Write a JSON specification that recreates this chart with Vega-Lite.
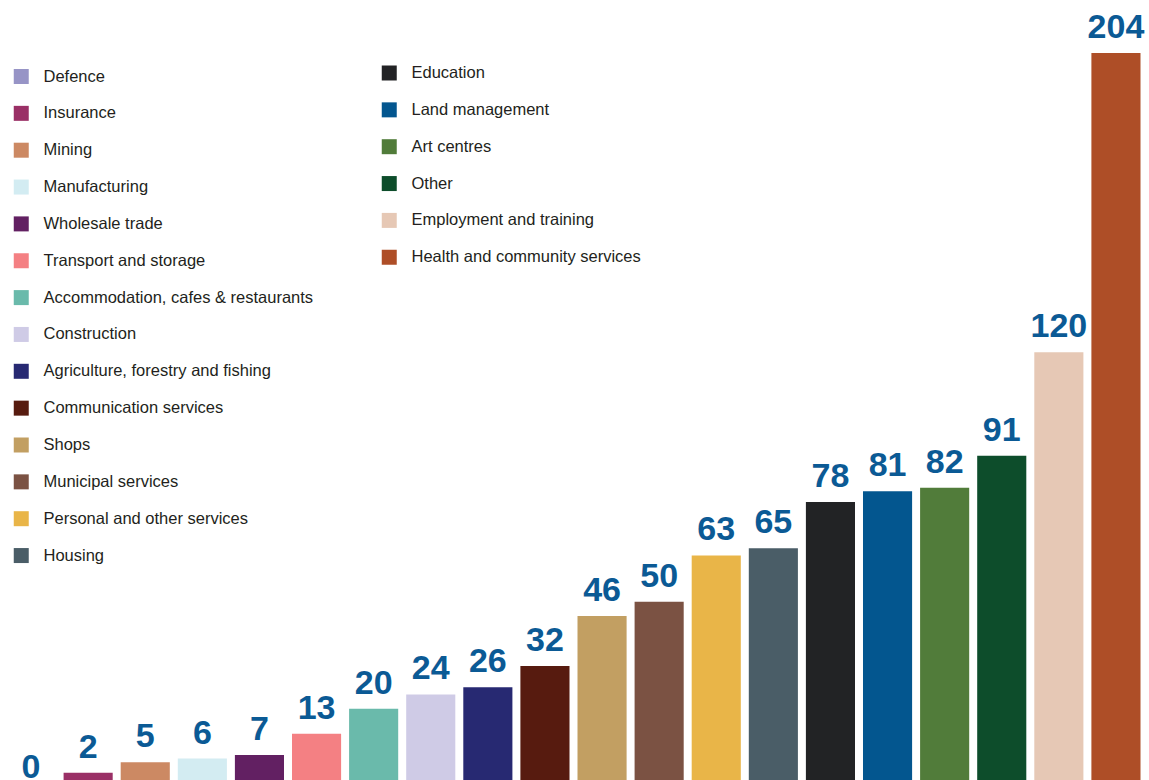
{
  "$schema": "https://vega.github.io/schema/vega-lite/v6.json",
  "width": 1142,
  "height": 727,
  "autosize": "none",
  "padding": {"left": 2.5, "top": 53, "right": 4.5, "bottom": 0},
  "background": "white",
  "config": {"view": {"stroke": null}},
  "data": {
    "values": [
      {"category": "Defence", "value": 0},
      {"category": "Insurance", "value": 2},
      {"category": "Mining", "value": 5},
      {"category": "Manufacturing", "value": 6},
      {"category": "Wholesale trade", "value": 7},
      {"category": "Transport and storage", "value": 13},
      {"category": "Accommodation, cafes & restaurants", "value": 20},
      {"category": "Construction", "value": 24},
      {"category": "Agriculture, forestry and fishing", "value": 26},
      {"category": "Communication services", "value": 32},
      {"category": "Shops", "value": 46},
      {"category": "Municipal services", "value": 50},
      {"category": "Personal and other services", "value": 63},
      {"category": "Housing", "value": 65},
      {"category": "Education", "value": 78},
      {"category": "Land management", "value": 81},
      {"category": "Art centres", "value": 82},
      {"category": "Other", "value": 91},
      {"category": "Employment and training", "value": 120},
      {"category": "Health and community services", "value": 204}
    ]
  },
  "encoding": {
    "x": {
      "field": "category",
      "type": "nominal",
      "sort": null,
      "axis": null,
      "scale": {
        "domain": ["Defence", "Insurance", "Mining", "Manufacturing", "Wholesale trade", "Transport and storage", "Accommodation, cafes & restaurants", "Construction", "Agriculture, forestry and fishing", "Communication services", "Shops", "Municipal services", "Personal and other services", "Housing", "Education", "Land management", "Art centres", "Other", "Employment and training", "Health and community services"],
        "paddingInner": 0.14,
        "paddingOuter": 0.07
      }
    },
    "y": {
      "field": "value",
      "type": "quantitative",
      "axis": null,
      "scale": {"domain": [0, 204], "nice": false}
    }
  },
  "layer": [
    {
      "transform": [{"filter": "datum.value < 70"}],
      "mark": {"type": "bar"},
      "encoding": {
        "color": {
          "field": "category",
          "type": "nominal",
          "sort": null,
          "scale": {
            "domain": ["Defence", "Insurance", "Mining", "Manufacturing", "Wholesale trade", "Transport and storage", "Accommodation, cafes & restaurants", "Construction", "Agriculture, forestry and fishing", "Communication services", "Shops", "Municipal services", "Personal and other services", "Housing"],
            "range": ["#9794c6", "#9a3066", "#cc8963", "#d3ecf2", "#622062", "#f48083", "#6abaab", "#cfcbe6", "#272972", "#571b0f", "#c29f62", "#7b5243", "#e9b548", "#4a5d67"]
          },
          "legend": {
            "orient": "none",
            "legendX": 10.5,
            "legendY": 15.25,
            "title": null,
            "padding": 0,
            "symbolType": "square",
            "symbolSize": 225,
            "symbolStrokeWidth": 0,
            "symbolOpacity": 1,
            "labelFont": "Liberation Sans",
            "labelFontSize": 16.5,
            "labelColor": "#231f20",
            "labelOffset": 14,
            "labelLimit": 400,
            "rowPadding": 19.85
          }
        }
      }
    },
    {
      "transform": [{"filter": "datum.value >= 70"}],
      "mark": {"type": "bar"},
      "encoding": {
        "color": {
          "field": "category",
          "type": "nominal",
          "sort": null,
          "scale": {
            "domain": ["Education", "Land management", "Art centres", "Other", "Employment and training", "Health and community services"],
            "range": ["#222325", "#03568f", "#517c3a", "#0d4d2b", "#e6c8b5", "#ae4e27"]
          },
          "legend": {
            "orient": "none",
            "legendX": 378.5,
            "legendY": 11.75,
            "title": null,
            "padding": 0,
            "symbolType": "square",
            "symbolSize": 225,
            "symbolStrokeWidth": 0,
            "symbolOpacity": 1,
            "labelFont": "Liberation Sans",
            "labelFontSize": 16.5,
            "labelColor": "#231f20",
            "labelOffset": 14,
            "labelLimit": 400,
            "rowPadding": 19.85
          }
        }
      }
    },
    {
      "transform": [{"filter": "datum.value > 0"}],
      "mark": {"type": "text", "baseline": "alphabetic", "dy": -15, "font": "Liberation Sans", "fontWeight": "bold", "fontSize": 34, "color": "#0b5a95"},
      "encoding": {"text": {"field": "value", "type": "quantitative"}}
    },
    {
      "transform": [{"filter": "datum.value == 0"}],
      "mark": {"type": "text", "baseline": "alphabetic", "dy": -2, "font": "Liberation Sans", "fontWeight": "bold", "fontSize": 34, "color": "#0b5a95"},
      "encoding": {"text": {"field": "value", "type": "quantitative"}}
    }
  ],
  "resolve": {"scale": {"color": "independent"}}
}
